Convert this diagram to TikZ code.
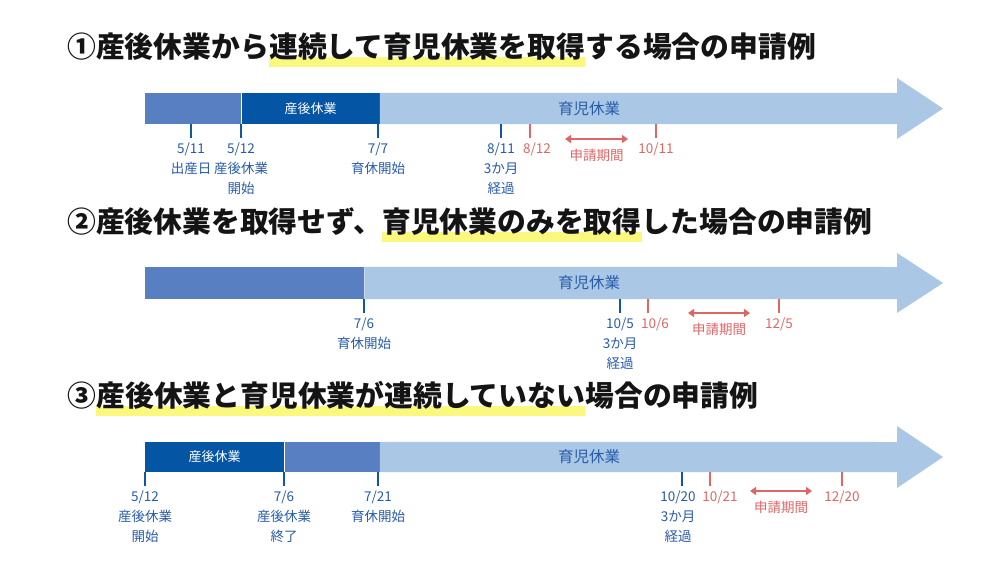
\documentclass[tikz,border=0pt]{standalone}
\usepackage{fontspec}
\setmainfont{Noto Sans CJK JP}
\usetikzlibrary{arrows.meta, positioning, calc, backgrounds}
\definecolor{titleInk}{RGB}{20,20,20}
\definecolor{markYellow}{RGB}{250,248,125}
\definecolor{sangoBlue}{RGB}{5,85,165}
\definecolor{midBlue}{RGB}{87,127,193}
\definecolor{ikujiBlue}{RGB}{170,199,230}
\definecolor{labelBlue}{RGB}{40,92,170}
\definecolor{tickBlue}{RGB}{14,87,166}
\definecolor{shinseiRed}{RGB}{224,102,102}

\begin{document}
\begin{tikzpicture}[x=1pt, y=-1pt,
    title/.style={inner sep=0pt, anchor=base west, font=\fontsize{28.8}{30}\selectfont\bfseries, text=titleInk},
    seg/.style={inner sep=0pt, anchor=west},
    bartext/.style={font=\fontsize{15.5}{16}\selectfont, text=labelBlue},
    sangotext/.style={font=\fontsize{13}{14}\selectfont, text=white},
    datelbl/.style={align=center, inner sep=1pt, font=\fontsize{13.5}{20}\selectfont, text=labelBlue},
    redlbl/.style={datelbl, text=shinseiRed},
    tickb/.style={draw=tickBlue, line width=2pt, shorten >=4pt},
    tickr/.style={draw=shinseiRed, line width=1.5pt, shorten >=4pt},
    period/.style={shinseiRed, line width=2pt, {Triangle[length=6pt,width=8pt]}-{Triangle[length=6pt,width=8pt]}}]
    \useasboundingbox (0,0) rectangle (1000,562);

    % Titles
    \node[title] (t1a) at (67,57.5) {①産後休業から};
    \node[title] (t1b) at (t1a.base east) {連続して育児休業を取得};
    \node[title] (t1c) at (t1b.base east) {する場合の申請例};

    \node[title] (t2a) at (67,232) {②産後休業を取得せず、};
    \node[title] (t2b) at (t2a.base east) {育児休業のみを取得};
    \node[title] (t2c) at (t2b.base east) {した場合の申請例};

    \node[title] (t3a) at (67,406.5) {③};
    \node[title] (t3b) at (t3a.base east) {産後休業と育児休業が連続していない};
    \node[title] (t3c) at (t3b.base east) {場合の申請例};

    \begin{scope}[on background layer]
        \fill[white] (0,0) rectangle (1000,562);
        \fill[markYellow] ($(t1b.base west)+(0,-0.5)$) rectangle ($(t1b.base east)+(0,9.5)$);
        \fill[markYellow] ($(t2b.base west)+(0,-0.5)$) rectangle ($(t2b.base east)+(0,9.5)$);
        \fill[markYellow] ($(t3b.base west)+(0,-0.5)$) rectangle ($(t3b.base east)+(0,9.5)$);
    \end{scope}

    % Case 1
    \node[seg, fill=midBlue, minimum width=96pt, minimum height=31pt] (pre1) at (145,108.5) {};
    \node[seg, fill=sangoBlue, minimum width=138pt, minimum height=31pt, right=0pt of pre1, sangotext] (sango1) {産後休業};
    \fill[ikujiBlue] (sango1.north east) -- (897,93) -- (897,78) -- (943,108.5) -- (897,139) -- (897,124) -- (sango1.south east) -- cycle;
    \node[bartext] (ikuji1) at (589,108.5) {育児休業};

    \coordinate (k1a) at (191,124);
    \coordinate (k1b) at (241,124);
    \coordinate (k1c) at (378,124);
    \coordinate (k1d) at (501,124);
    \coordinate (k1e) at (530,124);
    \coordinate (k1f) at (656,124);
    \node[datelbl, below=18pt of k1a] (d1a) {5/11\\出産日};
    \node[datelbl, below=18pt of k1b] (d1b) {5/12\\産後休業\\開始};
    \node[datelbl, below=18pt of k1c] (d1c) {7/7\\育休開始};
    \node[datelbl, below=18pt of k1d] (d1d) {8/11\\3か月\\経過};
    \node[redlbl, below=18pt of k1e, xshift=7pt] (d1e) {8/12};
    \node[redlbl, below=18pt of k1f] (d1f) {10/11};
    \draw[tickb] (k1a) -- (d1a.north);
    \draw[tickb] (k1b) -- (d1b.north);
    \draw[tickb] (k1c) -- (d1c.north);
    \draw[tickb] (k1d) -- (d1d.north);
    \draw[tickr] (k1e) -- (k1e |- d1e.north);
    \draw[tickr] (k1f) -- (d1f.north);

    \coordinate (pa1) at (565,139);
    \coordinate (pb1) at (628,139);
    \draw[period] (pa1) -- (pb1);
    \node[redlbl] (s1) at ($(pa1)!0.5!(pb1)+(0,16)$) {申請期間};

    % Case 2
    \node[seg, fill=midBlue, minimum width=219pt, minimum height=32pt] (pre2) at (145,283) {};
    \fill[ikujiBlue] (pre2.north east) -- (897,267) -- (897,253) -- (943,283) -- (897,313) -- (897,299) -- (pre2.south east) -- cycle;
    \node[bartext] (ikuji2) at (589,283) {育児休業};

    \coordinate (k2a) at (364,299);
    \coordinate (k2b) at (620,299);
    \coordinate (k2c) at (648,299);
    \coordinate (k2d) at (779,299);
    \node[datelbl, below=18pt of k2a] (d2a) {7/6\\育休開始};
    \node[datelbl, below=18pt of k2b] (d2b) {10/5\\3か月\\経過};
    \node[redlbl, below=18pt of k2c, xshift=7pt] (d2c) {10/6};
    \node[redlbl, below=18pt of k2d] (d2d) {12/5};
    \draw[tickb] (k2a) -- (d2a.north);
    \draw[tickb] (k2b) -- (d2b.north);
    \draw[tickr] (k2c) -- (k2c |- d2c.north);
    \draw[tickr] (k2d) -- (d2d.north);

    \coordinate (pa2) at (688,313);
    \coordinate (pb2) at (750,313);
    \draw[period] (pa2) -- (pb2);
    \node[redlbl] (s2) at ($(pa2)!0.5!(pb2)+(0,16)$) {申請期間};

    % Case 3
    \node[seg, fill=sangoBlue, minimum width=139pt, minimum height=30pt, sangotext] (sango3) at (145,457) {産後休業};
    \node[seg, fill=midBlue, minimum width=95pt, minimum height=30pt, right=0pt of sango3] (mid3) {};
    \fill[ikujiBlue] (mid3.north east) -- (897,442) -- (897,426) -- (943,457) -- (897,488) -- (897,472) -- (mid3.south east) -- cycle;
    \node[bartext] (ikuji3) at (589,457) {育児休業};

    \coordinate (k3a) at (145,472);
    \coordinate (k3b) at (284,472);
    \coordinate (k3c) at (378,472);
    \coordinate (k3d) at (682,472);
    \coordinate (k3e) at (710,472);
    \coordinate (k3f) at (842,472);
    \node[datelbl, below=18pt of k3a] (d3a) {5/12\\産後休業\\開始};
    \node[datelbl, below=18pt of k3b] (d3b) {7/6\\産後休業\\終了};
    \node[datelbl, below=18pt of k3c] (d3c) {7/21\\育休開始};
    \node[datelbl, below=18pt of k3d, xshift=-4pt] (d3d) {10/20\\3か月\\経過};
    \node[redlbl, below=18pt of k3e, xshift=10pt] (d3e) {10/21};
    \node[redlbl, below=18pt of k3f] (d3f) {12/20};
    \draw[tickb] (k3a) -- (d3a.north);
    \draw[tickb] (k3b) -- (d3b.north);
    \draw[tickb] (k3c) -- (d3c.north);
    \draw[tickb] (k3d) -- (k3d |- d3d.north);
    \draw[tickr] (k3e) -- (k3e |- d3e.north);
    \draw[tickr] (k3f) -- (d3f.north);

    \coordinate (pa3) at (750,491);
    \coordinate (pb3) at (812,491);
    \draw[period] (pa3) -- (pb3);
    \node[redlbl] (s3) at ($(pa3)!0.5!(pb3)+(0,16)$) {申請期間};
\end{tikzpicture}
\end{document}
